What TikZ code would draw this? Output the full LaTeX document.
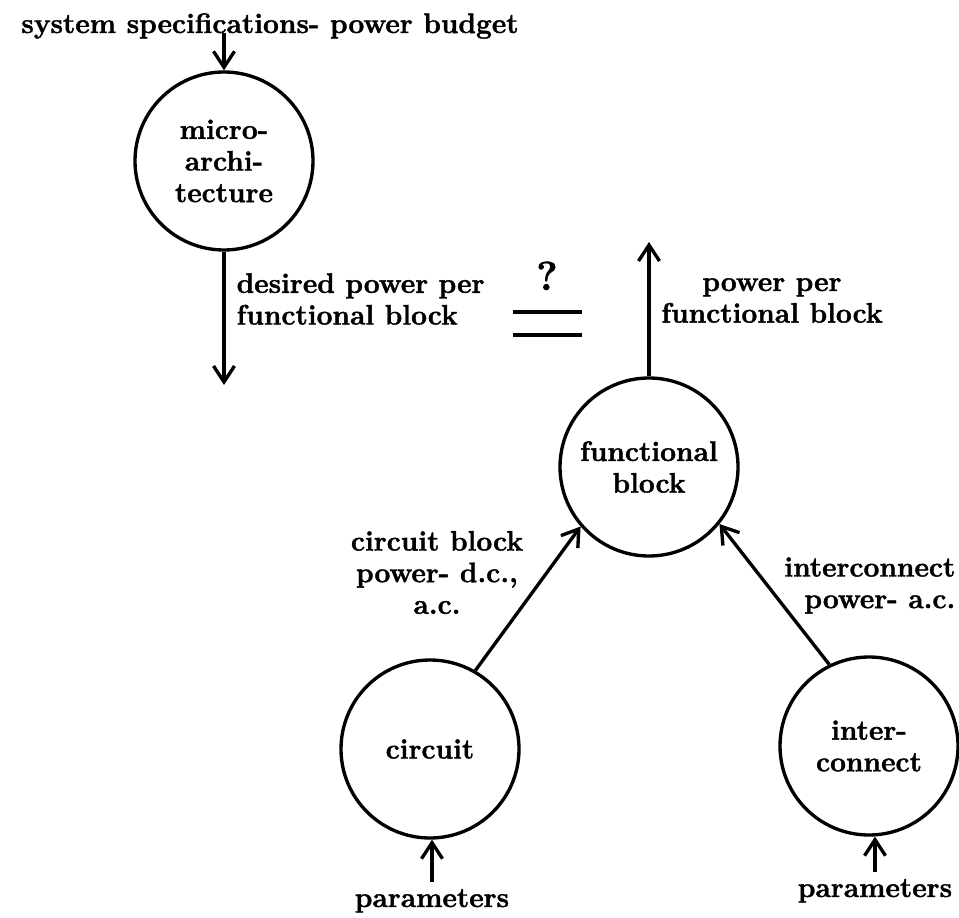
\documentclass[tikz,border=0pt]{standalone}
\usepackage{fontspec}
\setmainfont{Latin Modern Roman}[BoldFeatures={FakeBold=1.5}]
\usetikzlibrary{arrows.meta}
\begin{document}
\begin{tikzpicture}
[blob/.style={circle, draw, minimum size=3.56cm, inner sep=0pt, align=center},
 lbl/.style={inner sep=0pt},
 font=\fontsize{16}{18}\selectfont\bfseries,
 >={Straight Barb[length=3.2mm,width=4.2mm]}, line width=1.9pt]
\useasboundingbox (0,0) rectangle (19.18,-18.34);

\node (spec) at (5.4,-0.66) [lbl, anchor=base] {system specifications- power budget};
\node (micro) at (4.48,-3.22) [blob] {micro-\\archi-\\tecture};
\coordinate (want) at (4.48,-7.7);
\node (desired) at (4.7,-5.98) [lbl, anchor=west, align=left] {desired power per\\functional block};

\node (ask) at (10.94,-5.8) [lbl, anchor=base, font=\fontsize{23}{26}\selectfont\bfseries] {?};
\draw [line width=2.4pt] (10.26,-6.24) -- (11.64,-6.24) (10.26,-6.7) -- (11.64,-6.7);

\node (func) at (12.98,-9.34) [blob] {functional\\block};
\coordinate (have) at (12.98,-4.84);
\node (actual) at (15.44,-6.01) [lbl, align=center] {power per\\functional block};

\node (circuit) at (8.6,-14.98) [blob] {circuit};
\node (inter) at (17.38,-14.92) [blob] {inter-\\connect};
\node (cblabel) at (8.74,-11.45) [lbl, align=center] {circuit block\\power- d.c.,\\a.c.};
\node (iclabel) at (19.14,-11.71) [lbl, anchor=east, align=right] {interconnect\\power- a.c.};

\node (parc) at (8.64,-18.14) [lbl, anchor=base] {parameters};
\node (pari) at (17.5,-17.94) [lbl, anchor=base] {parameters};

\draw [->] (spec.base -| micro) -- (micro);
\draw [->] (micro) -- (want);
\draw [->] (func) -- (have);
\draw [->] (circuit.60) -- (func.221);
\draw [->] (inter.116) -- (func.321);
\draw [->] ([yshift=3pt]parc.north) -- (parc.north |- circuit.south);
\draw [->] ([yshift=3pt]pari.north) -- (pari.north |- inter.south);
\end{tikzpicture}
\end{document}
